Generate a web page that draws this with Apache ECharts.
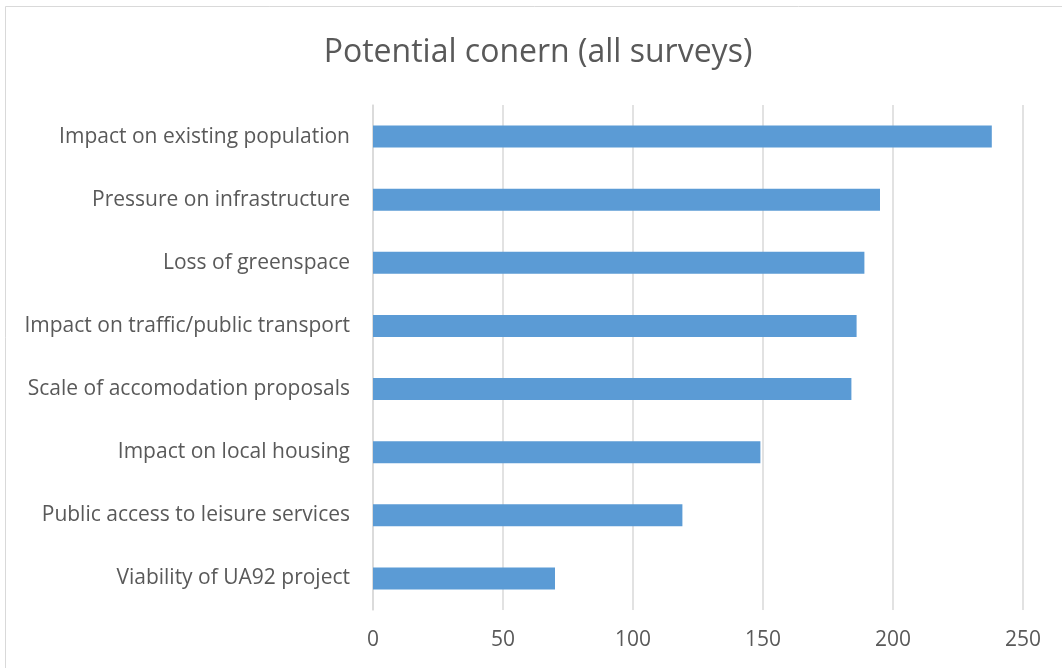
<!DOCTYPE html>
<html>
<head>
<meta charset="utf-8">
<script src="https://cdn.jsdelivr.net/npm/echarts@6/dist/echarts.min.js"></script>
<style>
html,body{margin:0;padding:0;background:#fff;}
#main{width:1062px;height:668px;}
</style>
</head>
<body>
<div id="main"></div>
<script>
const titleText = 'Potential conern (all surveys)';
const categories = [
  'Impact on existing population',
  'Pressure on infrastructure',
  'Loss of greenspace',
  'Impact on traffic/public transport',
  'Scale of accomodation proposals',
  'Impact on local housing',
  'Public access to leisure services',
  'Viability of UA92 project'
];
const values = [238, 195, 189, 186, 184, 149, 119, 70];
const xTicks = [0, 50, 100, 150, 200, 250];

const chart = echarts.init(document.getElementById('main'), null, {renderer: 'canvas'});
const FONT = '"Open Sans", "DejaVu Sans", sans-serif';
chart.setOption({
  backgroundColor: '#ffffff',
  animation: false,
  graphic: [{
    type: 'rect',
    shape: {x: 5.5, y: 6.5, width: 1100, height: 700},
    style: {fill: 'none', stroke: '#d9d9d9', lineWidth: 1}
  }],
  title: {
    text: titleText,
    left: 533,
    textAlign: 'center',
    top: 32,
    textStyle: {fontFamily: FONT, fontSize: 32, fontWeight: 'normal', color: '#595959'}
  },
  grid: {left: 373, right: 39, top: 105, bottom: 58, containLabel: false},
  xAxis: {
    type: 'value',
    min: xTicks[0],
    max: xTicks[xTicks.length - 1],
    interval: xTicks[1] - xTicks[0],
    axisLine: {show: false},
    axisTick: {show: false},
    splitLine: {show: true, lineStyle: {color: '#d9d9d9', width: 1.5}},
    axisLabel: {fontFamily: FONT, fontSize: 21, color: '#595959', margin: 20}
  },
  yAxis: {
    type: 'category',
    inverse: true,
    data: categories,
    axisLine: {show: true, lineStyle: {color: '#d9d9d9', width: 1.5}},
    axisTick: {show: false},
    axisLabel: {fontFamily: FONT, fontSize: 21, color: '#595959', margin: 23}
  },
  series: [{
    type: 'bar',
    data: values,
    barWidth: '35%',
    itemStyle: {color: '#5b9bd5'}
  }]
});
</script>
</body>
</html>
